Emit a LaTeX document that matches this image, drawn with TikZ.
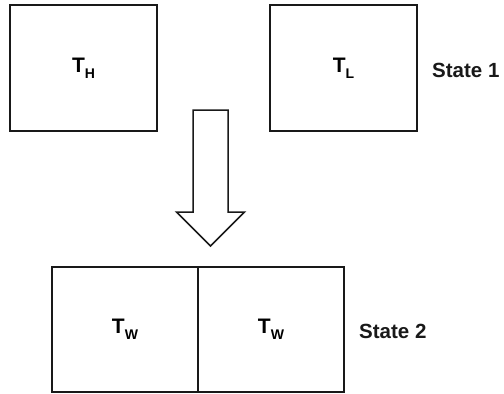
\documentclass[tikz,border=0pt]{standalone}
\usepackage{fontspec}
\setmainfont{Liberation Sans}
\newcommand{\Tsubx}[1]{T\raisebox{-0.28em}{\fontsize{14}{14}\selectfont #1}}
\begin{document}
\begin{tikzpicture}[x=1pt,y=-1pt,
  box/.style={draw=black!90,line width=1.5pt,minimum width=147pt,minimum height=126pt,inner sep=0pt,font=\fontsize{21}{21}\selectfont\bfseries},
  half/.style={box,minimum width=146pt,minimum height=125pt},
  lab/.style={font=\fontsize{20.5}{20.5}\selectfont\bfseries,text=black!90,anchor=west,inner sep=0pt}]
\useasboundingbox (0,0) rectangle (504,394);
\node[box] (th) at (83.5,68) {\Tsubx{H}};
\node[box] (tl) at (343.5,68) {\Tsubx{L}};
\node[lab] (s1) at (432,70) {State 1};
\node[half] (wl) at (125,329.5) {\Tsubx{W}};
\node[half] (wr) at (271,329.5) {\Tsubx{W}};
\node[lab] (s2) at (359,331) {State 2};
\draw[black!90,line width=1.5pt,line join=miter]
  (193,110) -- (228,110) -- (228,212) -- (244.5,212) -- (210.5,246) -- (176.5,212) -- (193,212) -- cycle;
\end{tikzpicture}
\end{document}
